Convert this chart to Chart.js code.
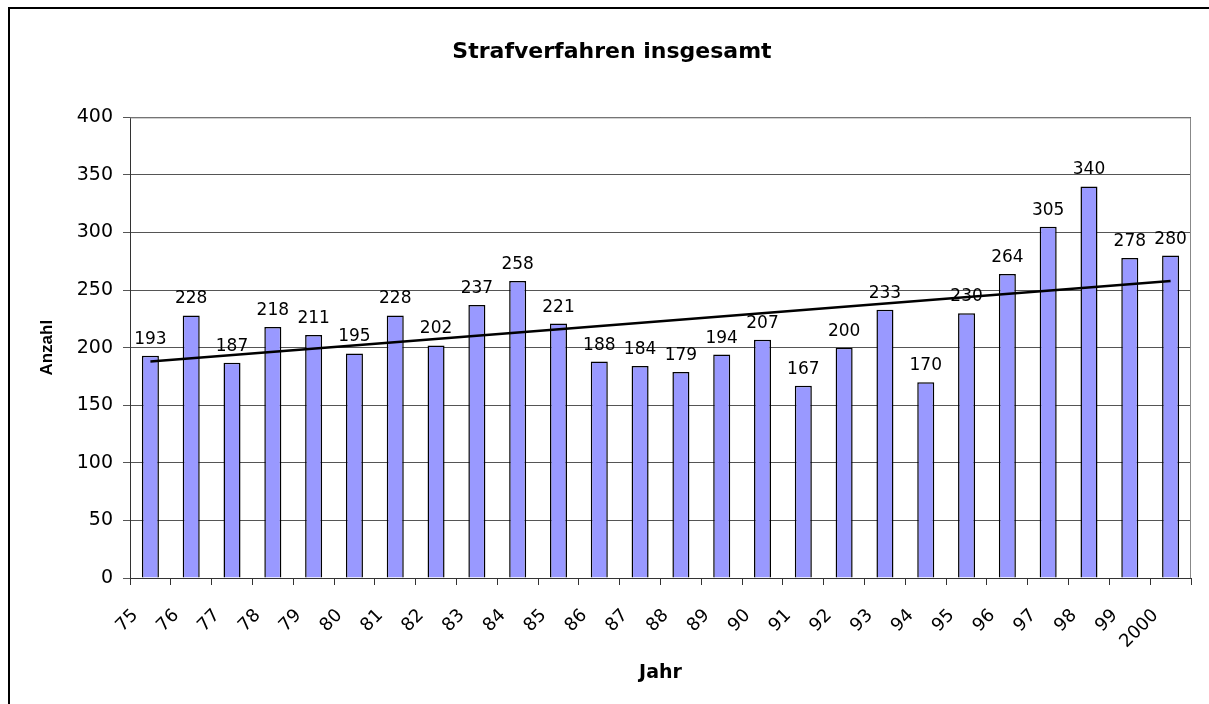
<!DOCTYPE html>
<html>
<head>
<meta charset="utf-8">
<script src="https://cdn.jsdelivr.net/npm/chart.js@4/dist/chart.umd.min.js"></script>
<style>
  html, body { margin: 0; padding: 0; background: #fff; }
  #wrap { width: 1209px; height: 704px; position: relative; }
</style>
</head>
<body>
<div id="wrap"><canvas id="chart" width="1209" height="704"></canvas></div>
<script>
const years = ["75", "76", "77", "78", "79", "80", "81", "82", "83", "84", "85", "86", "87",
  "88", "89", "90", "91", "92", "93", "94", "95", "96", "97", "98", "99", "2000"];
const cases = [193, 228, 187, 218, 211, 195, 228, 202, 237, 258, 221, 188, 184,
  179, 194, 207, 167, 200, 233, 170, 230, 264, 305, 340, 278, 280];
// trend line: value at first and last year
const trendStart = 188;
const trendEnd = 258;

const trend = years.map((y, i) => (i === 0 ? trendStart : i === years.length - 1 ? trendEnd : null));

const WIDE = "'DejaVu Sans', Verdana, sans-serif";
const ARIAL = "'Liberation Sans', Arial, sans-serif";

// frame round the whole chart + grey plot border
const framePlugin = {
  id: "frame",
  beforeDraw(chart) {
    const ctx = chart.ctx;
    ctx.save();
    ctx.fillStyle = "#fff";
    ctx.fillRect(0, 0, chart.width, chart.height);
    ctx.strokeStyle = "#000";
    ctx.lineWidth = 2;
    ctx.strokeRect(9, 8, 1400, 900);
    ctx.restore();
  },
  beforeDatasetsDraw(chart) {
    const { left, top, right, bottom } = chart.chartArea;
    const ctx = chart.ctx;
    ctx.save();
    ctx.strokeStyle = "#888";
    ctx.lineWidth = 1;
    ctx.beginPath();
    ctx.moveTo(left, top + 0.5);
    ctx.lineTo(right - 0.5, top + 0.5);
    ctx.lineTo(right - 0.5, bottom);
    ctx.stroke();
    ctx.restore();
  }
};

// value labels above bars, drawn before the trend line
const labelPlugin = {
  id: "barLabels",
  afterDatasetDraw(chart, args) {
    if (args.index !== 0) return;
    const ctx = chart.ctx;
    ctx.save();
    ctx.font = "17px " + WIDE;
    ctx.fillStyle = "#000";
    ctx.textAlign = "center";
    ctx.textBaseline = "alphabetic";
    args.meta.data.forEach((bar, i) => {
      ctx.fillText(String(cases[i]), bar.x, bar.y - 12);
    });
    ctx.restore();
  }
};

new Chart(document.getElementById("chart"), {
  data: {
    labels: years,
    datasets: [
      {
        type: "bar",
        data: cases,
        backgroundColor: "#9999FF",
        borderColor: "#000",
        borderWidth: 1.5,
        categoryPercentage: 1,
        barPercentage: 0.417,
        order: 2
      },
      {
        type: "line",
        data: trend,
        spanGaps: true,
        borderColor: "#000",
        borderWidth: 2.5,
        pointRadius: 0,
        order: 1
      }
    ]
  },
  options: {
    responsive: false,
    animation: false,
    events: [],
    layout: { padding: { left: 33, right: 18, top: 0, bottom: 10 } },
    plugins: {
      legend: { display: false },
      tooltip: { enabled: false },
      title: {
        display: true,
        text: "Strafverfahren insgesamt",
        color: "#000",
        font: { family: WIDE, size: 22, weight: "bold" },
        padding: { top: 39, bottom: 52 }
      }
    },
    scales: {
      x: {
        offset: true,
        grid: { display: true, drawOnChartArea: false, drawTicks: true, tickLength: 7, color: "#333", offset: true },
        border: { color: "#333", width: 1 },
        ticks: {
          color: "#000",
          font: { family: WIDE, size: 18 },
          minRotation: 45,
          maxRotation: 45,
          padding: 20,
          labelOffset: -15,
          autoSkip: false
        },
        title: {
          display: true,
          text: "Jahr",
          color: "#000",
          font: { family: WIDE, size: 19, weight: "bold" },
          padding: { top: 0, bottom: 10 }
        },
        afterFit(scale) { scale.height = 116; }
      },
      y: {
        min: 0,
        max: 400,
        ticks: {
          stepSize: 50,
          color: "#000",
          font: { family: WIDE, size: 19 },
          padding: 10
        },
        grid: { color: "#555", tickLength: 7, lineWidth: 1 },
        border: { color: "#333", width: 1 },
        title: {
          display: true,
          text: "Anzahl",
          color: "#000",
          font: { family: ARIAL, size: 17, weight: "bold" },
          padding: { top: 4, bottom: 0 }
        },
        afterFit(scale) { scale.width = 97; }
      }
    }
  },
  plugins: [framePlugin, labelPlugin]
});
</script>
</body>
</html>
